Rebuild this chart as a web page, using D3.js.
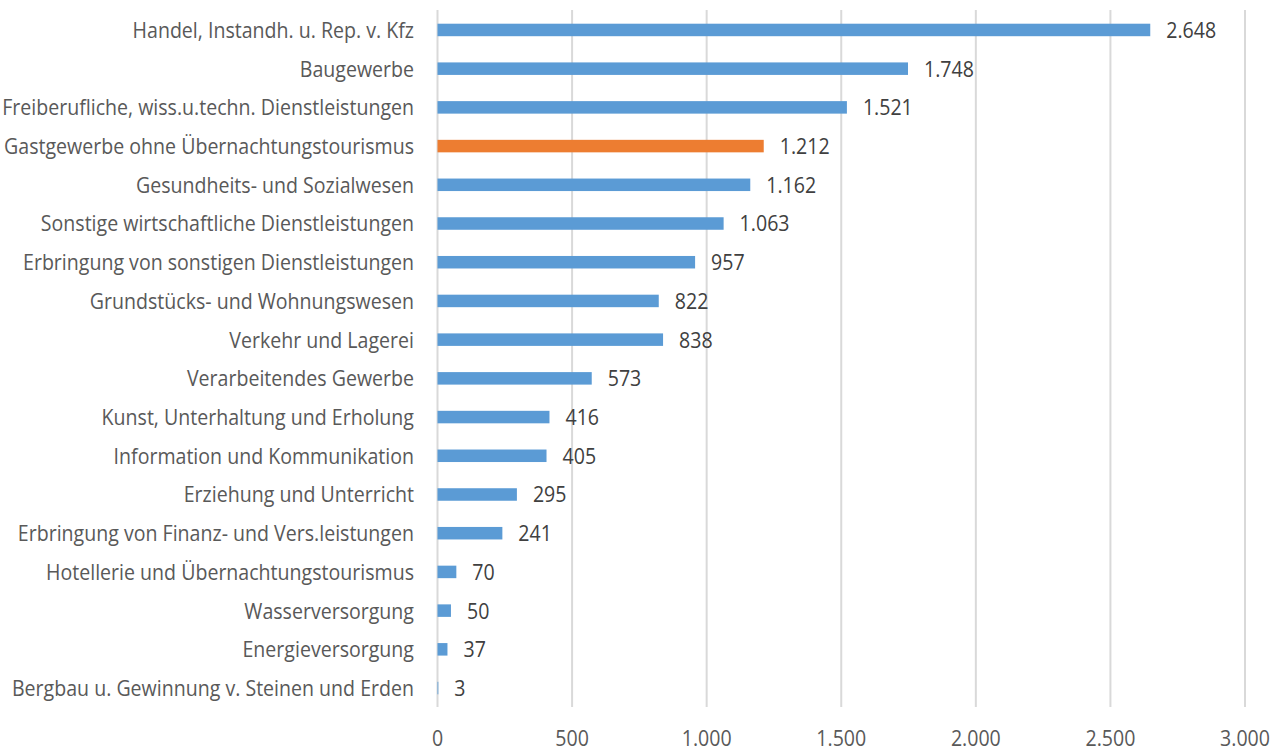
<!DOCTYPE html>
<html>
<head>
<meta charset="utf-8">
<script src="https://cdn.jsdelivr.net/npm/d3@7"></script>
<style>
  html, body { margin: 0; padding: 0; background: #fff; }
  svg { display: block; }
  text { font-family: "Open Sans", sans-serif; }
</style>
</head>
<body>
<svg id="chart" width="1283" height="751"></svg>
<script>
// Branches (top to bottom) and their values
const categories = [
  "Handel, Instandh. u. Rep. v. Kfz",
  "Baugewerbe",
  "Freiberufliche, wiss.u.techn. Dienstleistungen",
  "Gastgewerbe ohne Übernachtungstourismus",
  "Gesundheits- und Sozialwesen",
  "Sonstige wirtschaftliche Dienstleistungen",
  "Erbringung von sonstigen Dienstleistungen",
  "Grundstücks- und Wohnungswesen",
  "Verkehr und Lagerei",
  "Verarbeitendes Gewerbe",
  "Kunst, Unterhaltung und Erholung",
  "Information und Kommunikation",
  "Erziehung und Unterricht",
  "Erbringung von Finanz- und Vers.leistungen",
  "Hotellerie und Übernachtungstourismus",
  "Wasserversorgung",
  "Energieversorgung",
  "Bergbau u. Gewinnung v. Steinen und Erden"
];
const values = [2648, 1748, 1521, 1212, 1162, 1063, 957, 822, 838, 573, 416, 405, 295, 241, 70, 50, 37, 3];
const highlighted = ["Gastgewerbe ohne Übernachtungstourismus"];
const xTicks = [0, 500, 1000, 1500, 2000, 2500, 3000];

const fmt = d3.formatLocale({ decimal: ",", thousands: ".", grouping: [3], currency: ["", " €"] }).format(",d");

const svg = d3.select("#chart");
const x = d3.scaleLinear().domain([0, 3000]).range([437.5, 1245]);
const y = d3.scaleBand().domain(categories).range([10.6, 707.4])
  .paddingInner(0.677).paddingOuter(0.3385);

const squeeze = 0.89; // horizontal compression for a condensed look
const fontSize = 22;

// vertical gridlines
svg.append("g").selectAll("line").data(xTicks).join("line")
  .attr("x1", d => x(d)).attr("x2", d => x(d))
  .attr("y1", 10).attr("y2", 707)
  .attr("stroke", "#d9d9d9").attr("stroke-width", 2);

// bars
svg.append("g").selectAll("rect").data(values).join("rect")
  .attr("x", x(0))
  .attr("y", (d, i) => y(categories[i]))
  .attr("width", d => x(d) - x(0))
  .attr("height", y.bandwidth())
  .attr("fill", (d, i) => highlighted.includes(categories[i]) ? "#ed7d31" : "#5b9bd5");

// value labels
svg.append("g").selectAll("text").data(values).join("text")
  .attr("transform", (d, i) => `translate(${x(d) + 16},${y(categories[i]) + y.bandwidth() / 2}) scale(${squeeze},1)`)
  .attr("dy", "0.36em")
  .attr("font-size", fontSize)
  .attr("fill", "#404040")
  .text(d => fmt(d));

// category labels
svg.append("g").selectAll("text").data(categories).join("text")
  .attr("transform", d => `translate(414,${y(d) + y.bandwidth() / 2}) scale(${squeeze},1)`)
  .attr("dy", "0.36em")
  .attr("text-anchor", "end")
  .attr("font-size", fontSize)
  .attr("fill", "#595959")
  .text(d => d);

// x axis tick labels
svg.append("g").selectAll("text").data(xTicks).join("text")
  .attr("transform", d => `translate(${x(d)},738) scale(${squeeze},1)`)
  .attr("dy", "0.36em")
  .attr("text-anchor", "middle")
  .attr("font-size", fontSize)
  .attr("fill", "#595959")
  .text(d => fmt(d));
</script>
</body>
</html>
